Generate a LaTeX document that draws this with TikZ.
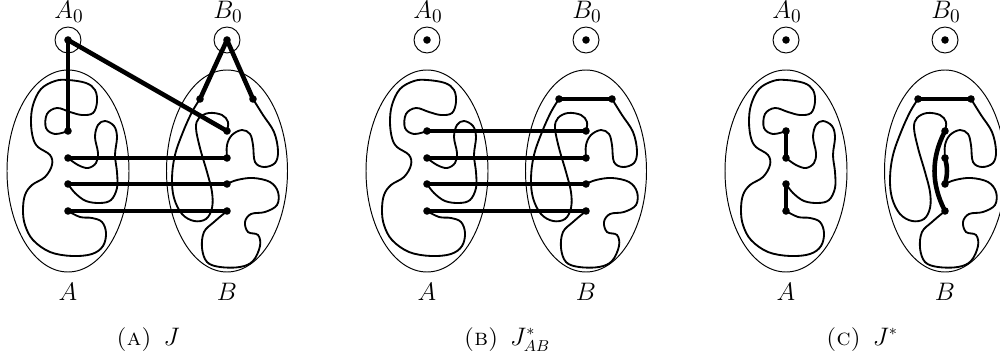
\documentclass[tikz,border=0pt]{standalone}
\usetikzlibrary{calc}
\begin{document}
\begin{tikzpicture}[x=0.02cm,y=-0.02cm,
  ell/.style={line width=0.55pt},
  blob/.style={line width=1.05pt, smooth, tension=0.6},
  thk/.style={line width=2.6pt, line cap=round},
  dot/.style={circle, fill, inner sep=0pt, minimum size=4.3pt},
  lab/.style={font=\fontsize{15}{18}\selectfont, inner sep=0pt},
  captext/.style={font=\fontsize{13.5}{16}\selectfont, inner sep=0pt, anchor=base}
]
\useasboundingbox (0,0) rectangle (1000,354);

\newcommand{\drawblobs}{%
  % left set A
  \draw[ell] (0,171) ellipse (61 and 101);
  \draw[blob] plot coordinates {(0,131) (-13,134) (-22,128) (-21,114) (-11,108) (2,112) (14,115) (25,113) (29,102) (27,90) (18,83) (0,80) (-13,81) (-27,89) (-35,105) (-37,122) (-35,138) (-30,147) (-18,155) (-16,165) (-23,177) (-36,185) (-43,195) (-45,210) (-43,225) (-35,240) (-18,252) (4,256) (24,254) (35,246) (38,233) (34,222) (24,218) (12,217) (0,211)};
  \draw[blob] plot coordinates {(0,184) (7,193) (18,201) (32,203) (43,200) (49,188) (49,172) (47,155) (49,137) (46,126) (37,121) (30,125) (27,137) (30,153) (28,163) (20,168) (10,165) (0,158)};
  \node[dot] (a1) at (0,131) {};
  \node[dot] (a2) at (0,158) {};
  \node[dot] (a3) at (0,184) {};
  \node[dot] (a4) at (0,211) {};
  % right set B
  \begin{scope}[shift={(159,0)}]
  \draw[ell] (0,171) ellipse (60.5 and 101);
  \draw[blob] plot coordinates {(-27,99) (-35,112) (-44,132) (-52,155) (-55,178) (-53,198) (-45,214) (-33,221) (-21,219) (-15,208) (-15,192) (-20,172) (-27,148) (-31,128) (-28,118) (-18,113) (-5,115) (1,122) (0,131)};
  \draw[blob] plot coordinates {(26,99) (36,115) (47,132) (51,151) (48,163) (37,167) (28,162) (26,145) (23,134) (15,130) (5,135) (0,145) (0,158)};
  \draw[blob] plot coordinates {(0,184) (10,180) (26,178) (43,182) (51,192) (50,205) (38,212) (24,214) (18,222) (21,232) (31,235) (33,246) (26,261) (13,267) (-7,267) (-20,262) (-25,248) (-23,232) (-13,222) (0,211)};
  \node[dot] (b0) at (-27,99) {};
  \node[dot] (b5) at (26,99) {};
  \node[dot] (b1) at (0,131) {};
  \node[dot] (b2) at (0,158) {};
  \node[dot] (b3) at (0,184) {};
  \node[dot] (b4) at (0,211) {};
  \end{scope}
  % A0, B0
  \node[dot] (ca) at (0,40) {};
  \draw[ell] (ca) circle (13);
  \node[dot] (cb) at (159,40) {};
  \draw[ell] (cb) circle (13);
  \node[lab, anchor=base] (la0) at (1,18.5) {$A_0$};
  \node[lab, anchor=base] (lb0) at (160,18.5) {$B_0$};
  \node[lab, anchor=base] (la) at (0,300) {$A$};
  \node[lab, anchor=base] (lb) at (159,300) {$B$};
}

% panel (a)
\begin{scope}[shift={(68,0)}]
  \drawblobs
  \draw[thk] (ca.center) -- (a1.center);
  \draw[thk] (ca.center) -- (b1.center);
  \draw[thk] (cb.center) -- (b0.center);
  \draw[thk] (cb.center) -- (b5.center);
  \draw[thk] (a2.center) -- (b2.center);
  \draw[thk] (a3.center) -- (b3.center);
  \draw[thk] (a4.center) -- (b4.center);
  \node[captext] (capa) at (80,345) {\textsc{(a)}\hspace{0.5em}$J$};
\end{scope}

% panel (b)
\begin{scope}[shift={(427,0)}]
  \drawblobs
  \draw[thk] (b0.center) -- (b5.center);
  \draw[thk] (a1.center) -- (b1.center);
  \draw[thk] (a2.center) -- (b2.center);
  \draw[thk] (a3.center) -- (b3.center);
  \draw[thk] (a4.center) -- (b4.center);
  \node[captext] (capb) at (80,345) {\textsc{(b)}\hspace{0.5em}$J^*_{AB}$};
\end{scope}

% panel (c)
\begin{scope}[shift={(786,0)}]
  \drawblobs
  \draw[thk] (b0.center) -- (b5.center);
  \draw[thk] (a1.center) -- (a2.center);
  \draw[thk] (a3.center) -- (a4.center);
  \draw[thk] (b1.center) .. controls ($(b1.center)+(-14,27)$) and ($(b4.center)+(-14,-27)$) .. (b4.center);
  \draw[thk] (b2.center) to[bend left=15] (b3.center);
  \node[captext] (capc) at (76,345) {\textsc{(c)}\hspace{0.5em}$J^*$};
\end{scope}
\end{tikzpicture}
\end{document}
